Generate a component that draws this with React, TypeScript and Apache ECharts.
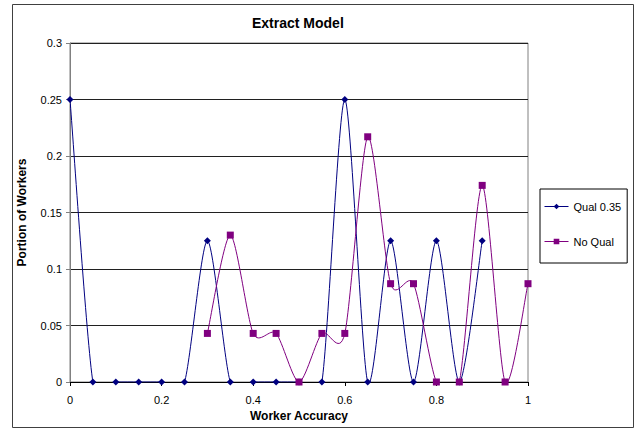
import React, { useEffect, useRef } from "react";
import * as echarts from "echarts";

const qualX = [0, 0.05, 0.1, 0.15, 0.2, 0.25, 0.3, 0.35, 0.4, 0.45, 0.5, 0.55, 0.6, 0.65, 0.7, 0.75, 0.8, 0.85, 0.9];
const qualY = [0.25, 0, 0, 0, 0, 0, 0.125, 0, 0, 0, 0, 0, 0.25, 0, 0.125, 0, 0.125, 0, 0.125];

const noQualX = [0.3, 0.35, 0.4, 0.45, 0.5, 0.55, 0.6, 0.65, 0.7, 0.75, 0.8, 0.85, 0.9, 0.95, 1];
const noQualY = [0.043, 0.13, 0.043, 0.043, 0, 0.043, 0.043, 0.217, 0.087, 0.087, 0, 0, 0.174, 0, 0.087];

const FONT = "'Liberation Sans', Arial, sans-serif";

// Excel-like smoothed curve (cardinal spline as cubic Bezier) drawn through the library's coordinate mapping
function curveSeries(xs: number[], ys: number[], color: string, z: number) {
  const data = xs.slice(0, -1).map((x, i) => [x, ys[i], xs[i + 1], ys[i + 1]]);
  return {
    type: "custom",
    coordinateSystem: "cartesian2d",
    silent: true,
    z,
    encode: { x: [0, 2], y: [1, 3] },
    data,
    renderItem: (params: any, api: any) => {
      const i = params.dataIndex;
      const n = xs.length;
      const P = (k: number) => {
        const kk = Math.max(0, Math.min(n - 1, k));
        return api.coord([xs[kk], ys[kk]]);
      };
      const p0 = P(i - 1);
      const p1 = P(i);
      const p2 = P(i + 1);
      const p3 = P(i + 2);
      const t = 0.13;
      const cs = params.coordSys;
      return {
        type: "bezierCurve",
        shape: {
          x1: p1[0],
          y1: p1[1],
          x2: p2[0],
          y2: p2[1],
          cpx1: p1[0] + (p2[0] - p0[0]) * t,
          cpy1: p1[1] + (p2[1] - p0[1]) * t,
          cpx2: p2[0] - (p3[0] - p1[0]) * t,
          cpy2: p2[1] - (p3[1] - p1[1]) * t,
        },
        style: { stroke: color, lineWidth: 1, fill: null },
        clipPath: { type: "rect", shape: { x: cs.x, y: cs.y, width: cs.width, height: cs.height + 0.5 } },
      };
    },
  };
}

export default function App() {
  const ref = useRef<HTMLDivElement>(null);
  useEffect(() => {
    if (!ref.current) return;
    const chart = echarts.init(ref.current, undefined, { renderer: "svg" });
    chart.setOption({
      animation: false,
      backgroundColor: "#ffffff",
      textStyle: { fontFamily: FONT },
      title: {
        text: "Extract Model",
        left: 252,
        top: 16,
        padding: 0,
        textStyle: { fontSize: 14, fontWeight: "bold", color: "#000", fontFamily: FONT },
      },
      graphic: [
        {
          type: "rect",
          shape: { x: 12.5, y: 4.5, width: 621, height: 423 },
          style: { fill: "none", stroke: "#404040", lineWidth: 1 },
          silent: true,
        },
      ],
      legend: {
        orient: "vertical",
        left: 540,
        top: 189,
        padding: [12, 6, 16, 4],
        itemGap: 24,
        itemWidth: 24,
        itemHeight: 7,
        borderColor: "#000",
        borderWidth: 1,
        textStyle: { fontSize: 11, color: "#000", fontFamily: FONT },
        data: [
          { name: "Qual 0.35", lineStyle: { opacity: 1, width: 1, color: "#000080" } },
          { name: "No Qual", lineStyle: { opacity: 1, width: 1, color: "#800080" } },
        ],
      },
      grid: { left: 70, top: 43, right: 111, bottom: 47, show: true, borderColor: "#808080", borderWidth: 1 },
      xAxis: {
        type: "value",
        min: 0,
        max: 1,
        interval: 0.2,
        name: "Worker Accuracy",
        nameLocation: "middle",
        nameGap: 28,
        nameTextStyle: { fontSize: 12, fontWeight: "bold", color: "#000", fontFamily: FONT },
        axisLine: { show: true, onZero: false, lineStyle: { color: "#000", width: 1 } },
        axisTick: { show: true, inside: false, length: 4, lineStyle: { color: "#000" } },
        axisLabel: { fontSize: 11, color: "#000", margin: 12, fontFamily: FONT },
        splitLine: { show: false },
      },
      yAxis: {
        type: "value",
        min: 0,
        max: 0.3,
        interval: 0.05,
        name: "Portion of Workers",
        nameLocation: "middle",
        nameGap: 42,
        nameTextStyle: { fontSize: 12, fontWeight: "bold", color: "#000", fontFamily: FONT },
        axisLine: { show: true, lineStyle: { color: "#808080", width: 1 } },
        axisTick: { show: true, inside: false, length: 4, lineStyle: { color: "#808080" } },
        axisLabel: { fontSize: 11, color: "#000", margin: 8, fontFamily: FONT },
        splitLine: { show: true, lineStyle: { color: "#202020", width: 1 } },
      },
      series: [
        curveSeries(qualX, qualY, "#000080", 2),
        curveSeries(noQualX, noQualY, "#800080", 3),
        {
          name: "Qual 0.35",
          type: "line",
          data: qualX.map((x, i) => [x, qualY[i]]),
          symbol: "diamond",
          symbolSize: 7,
          itemStyle: { color: "#000080" },
          lineStyle: { color: "#000080", width: 1, opacity: 0 },
          z: 5,
        },
        {
          name: "No Qual",
          type: "line",
          data: noQualX.map((x, i) => [x, noQualY[i]]),
          symbol: "rect",
          symbolSize: 7,
          itemStyle: { color: "#800080" },
          lineStyle: { color: "#800080", width: 1, opacity: 0 },
          z: 6,
        },
      ],
    });
    return () => chart.dispose();
  }, []);
  return (
    <div
      ref={ref}
      style={{ position: "fixed", left: 0, top: 0, width: 639, height: 429 }}
    />
  );
}
